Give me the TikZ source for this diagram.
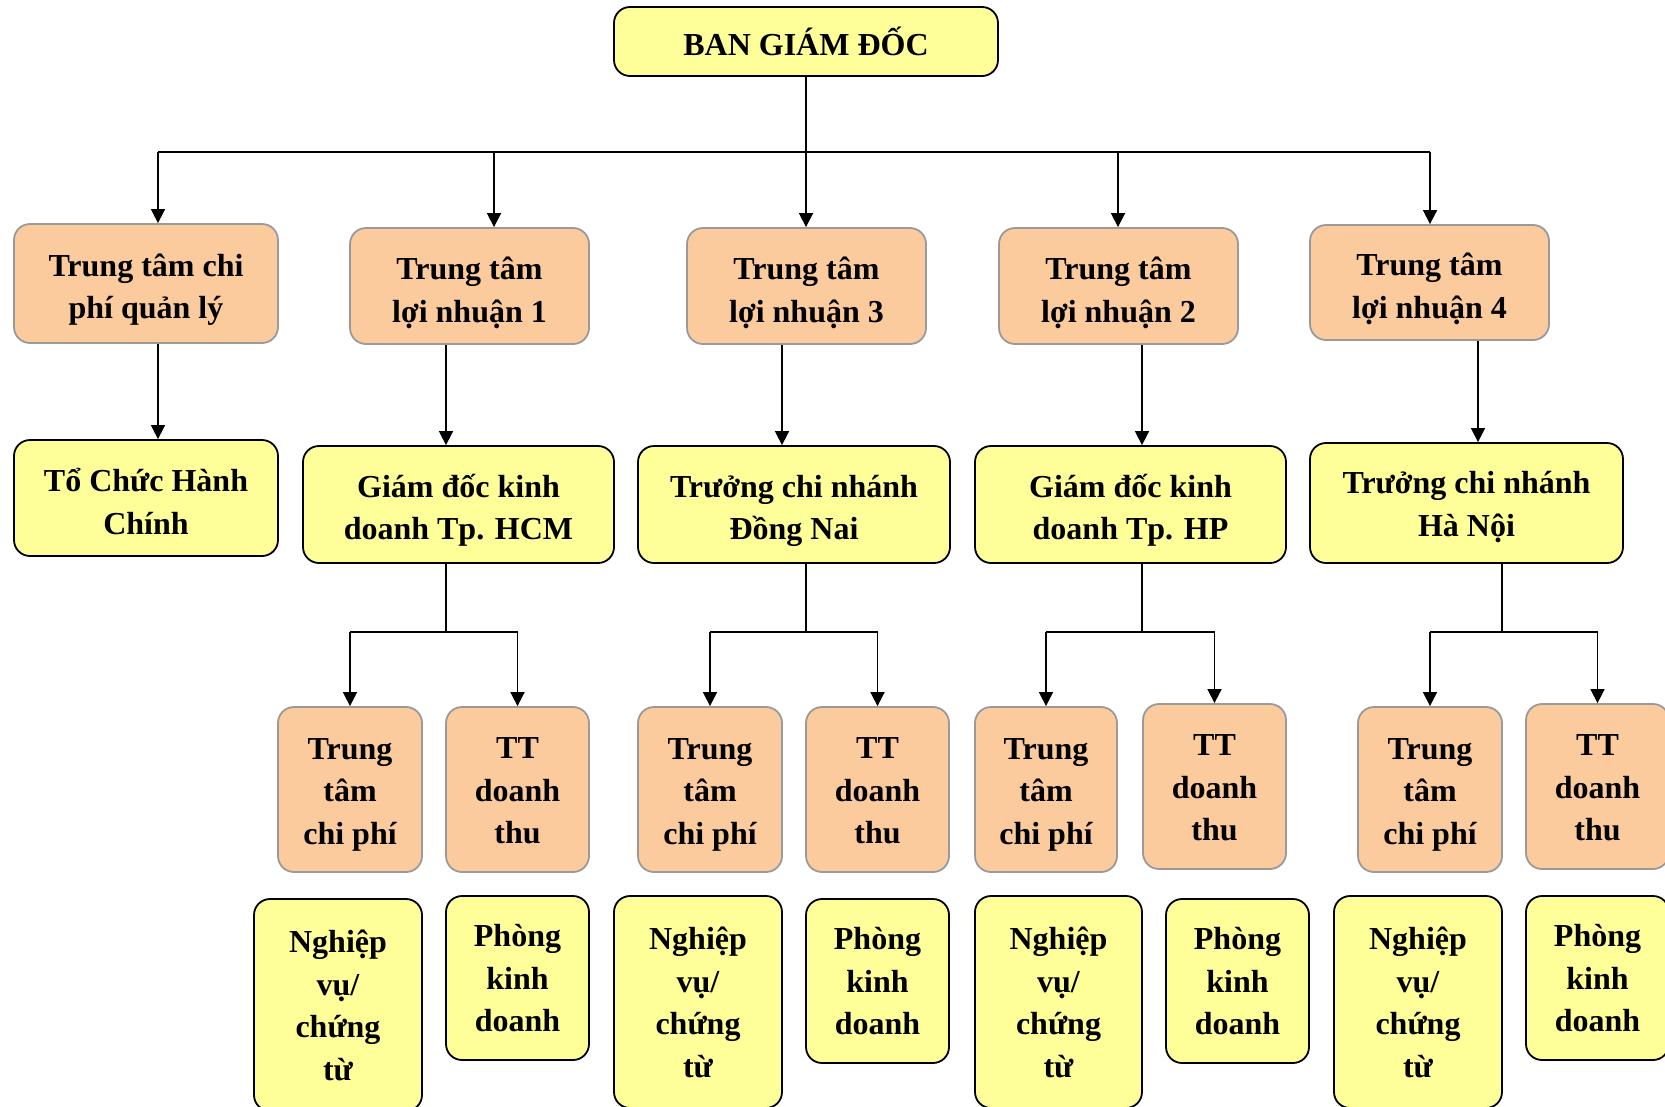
\documentclass[tikz,border=0pt]{standalone}
\usepackage{fontspec}
\setmainfont{Liberation Serif}
\usetikzlibrary{arrows.meta}
\definecolor{peach}{HTML}{FBCB9D}
\definecolor{lemon}{HTML}{FFFF99}
\definecolor{rim}{HTML}{9A9A9A}
% fixed first-line height (#1, in pt) and last-line depth, so every label sits at a set place
\newcommand\boxtext[2]{\rule{0pt}{#1pt}#2\rule[-9pt]{0pt}{9pt}}

\begin{document}
\begin{tikzpicture}[x=1pt,y=-1pt,
  box/.style={rounded corners=16pt, line width=1.8pt, align=center, inner sep=0pt,
              font=\bfseries\fontsize{32}{42.5}\selectfont},
  cost/.style={box, fill=peach, draw=rim},
  unit/.style={box, fill=lemon, draw=black},
  wire/.style={line width=1.6pt},
  arr/.style={wire, -{Triangle[width=14pt,length=14pt]}}]
\useasboundingbox (0,0) rectangle (1665,1106);

% board of directors
\node[unit, minimum width=384pt, minimum height=69pt] (top) at (806,41.5) {BAN GIÁM ĐỐC};

% responsibility centres
\node[cost, minimum width=264pt, minimum height=119pt] (c1) at (146,283.5) {\boxtext{37}{Trung tâm chi\\phí quản lý}};
\node[cost, minimum width=239pt, minimum height=116pt] (c2) at (469.5,286) {\boxtext{39}{Trung tâm\\lợi nhuận 1}};
\node[cost, minimum width=239pt, minimum height=116pt] (c3) at (806.5,286) {\boxtext{39}{Trung tâm\\lợi nhuận 3}};
\node[cost, minimum width=239pt, minimum height=116pt] (c4) at (1118.5,286) {\boxtext{39}{Trung tâm\\lợi nhuận 2}};
\node[cost, minimum width=239pt, minimum height=115pt] (c5) at (1429.5,282.5) {\boxtext{38}{Trung tâm\\lợi nhuận 4}};

% managers
\node[unit, minimum width=264pt, minimum height=116pt] (u1) at (146,498) {\boxtext{39}{Tổ Chức Hành\\Chính}};
\node[unit, minimum width=311pt, minimum height=117pt] (u2) at (458.5,504.5) {\boxtext{37}{Giám đốc kinh\\doanh Tp. HCM}};
\node[unit, minimum width=312pt, minimum height=117pt] (u3) at (794,504.5) {\boxtext{37}{Trưởng chi nhánh\\Đồng Nai}};
\node[unit, minimum width=311pt, minimum height=117pt] (u4) at (1130.5,504.5) {\boxtext{37}{Giám đốc kinh\\doanh Tp. HP}};
\node[unit, minimum width=313pt, minimum height=120pt] (u5) at (1466.5,503) {\boxtext{33}{Trưởng chi nhánh\\Hà Nội}};

% cost and revenue centres
\node[cost, minimum width=144pt, minimum height=165pt] (k1) at (350,789.5) {\boxtext{33.5}{Trung\\tâm\\chi phí}};
\node[cost, minimum width=143pt, minimum height=165pt] (r1) at (517.5,789.5) {\boxtext{32.5}{TT\\doanh\\thu}};
\node[cost, minimum width=144pt, minimum height=165pt] (k2) at (710,789.5) {\boxtext{33.5}{Trung\\tâm\\chi phí}};
\node[cost, minimum width=143pt, minimum height=165pt] (r2) at (877.5,789.5) {\boxtext{32.5}{TT\\doanh\\thu}};
\node[cost, minimum width=142pt, minimum height=165pt] (k3) at (1046,789.5) {\boxtext{33.5}{Trung\\tâm\\chi phí}};
\node[cost, minimum width=143pt, minimum height=165pt] (r3) at (1214.5,786.5) {\boxtext{32.5}{TT\\doanh\\thu}};
\node[cost, minimum width=144pt, minimum height=165pt] (k4) at (1430,789.5) {\boxtext{33.5}{Trung\\tâm\\chi phí}};
\node[cost, minimum width=143pt, minimum height=165pt] (r4) at (1597.5,786.5) {\boxtext{32.5}{TT\\doanh\\thu}};

% operating units
\node[unit, minimum width=168pt, minimum height=212pt] (n1) at (338,1005) {\boxtext{32}{Nghiệp\\vụ/\\chứng\\từ}};
\node[unit, minimum width=143pt, minimum height=164pt] (p1) at (517.5,978) {\boxtext{31}{Phòng\\kinh\\doanh}};
\node[unit, minimum width=168pt, minimum height=212pt] (n2) at (698,1002) {\boxtext{32}{Nghiệp\\vụ/\\chứng\\từ}};
\node[unit, minimum width=143pt, minimum height=164pt] (p2) at (877.5,981) {\boxtext{31}{Phòng\\kinh\\doanh}};
\node[unit, minimum width=167pt, minimum height=212pt] (n3) at (1058.5,1002) {\boxtext{32}{Nghiệp\\vụ/\\chứng\\từ}};
\node[unit, minimum width=143pt, minimum height=164pt] (p3) at (1237.5,981) {\boxtext{31}{Phòng\\kinh\\doanh}};
\node[unit, minimum width=168pt, minimum height=212pt] (n4) at (1418,1002) {\boxtext{32}{Nghiệp\\vụ/\\chứng\\từ}};
\node[unit, minimum width=143pt, minimum height=164pt] (p4) at (1597.5,978) {\boxtext{31}{Phòng\\kinh\\doanh}};

% distribution bus below the board
\coordinate (bus) at (806,152);
\coordinate (b1) at (158,152);
\coordinate (b2) at (494,152);
\coordinate (b3) at (806,152);
\coordinate (b4) at (1118,152);
\coordinate (b5) at (1430,152);
\draw[wire] (top.south -| bus) -- (bus);
\draw[wire] (b1) -- (b5);
\foreach \i in {1,...,5} \draw[arr] (b\i) -- (b\i |- c\i.north);

% centre to manager
\draw[arr] ([xshift=12pt]c1.south) -- ([xshift=12pt]c1.south |- u1.north);
\draw[arr] ([xshift=-23.5pt]c2.south) -- ([xshift=-23.5pt]c2.south |- u2.north);
\draw[arr] ([xshift=-24.5pt]c3.south) -- ([xshift=-24.5pt]c3.south |- u3.north);
\draw[arr] ([xshift=23.5pt]c4.south) -- ([xshift=23.5pt]c4.south |- u4.north);
\draw[arr] ([xshift=48.5pt]c5.south) -- ([xshift=48.5pt]c5.south |- u5.north);

% manager to cost / revenue centres
\coordinate (j2) at (446,632);
\coordinate (j3) at (806,632);
\coordinate (j4) at (1142,632);
\coordinate (j5) at (1502,632);
\foreach \m/\k/\r in {2/1/1, 3/2/2, 4/3/3, 5/4/4} {
  \draw[wire] (j\m |- u\m.south) -- (j\m);
  \draw[wire] (j\m -| k\k) -- (j\m -| r\r);
  \draw[arr] (j\m -| k\k) -- (k\k.north);
  \draw[arr] (j\m -| r\r) -- (r\r.north);
}
\end{tikzpicture}
\end{document}
